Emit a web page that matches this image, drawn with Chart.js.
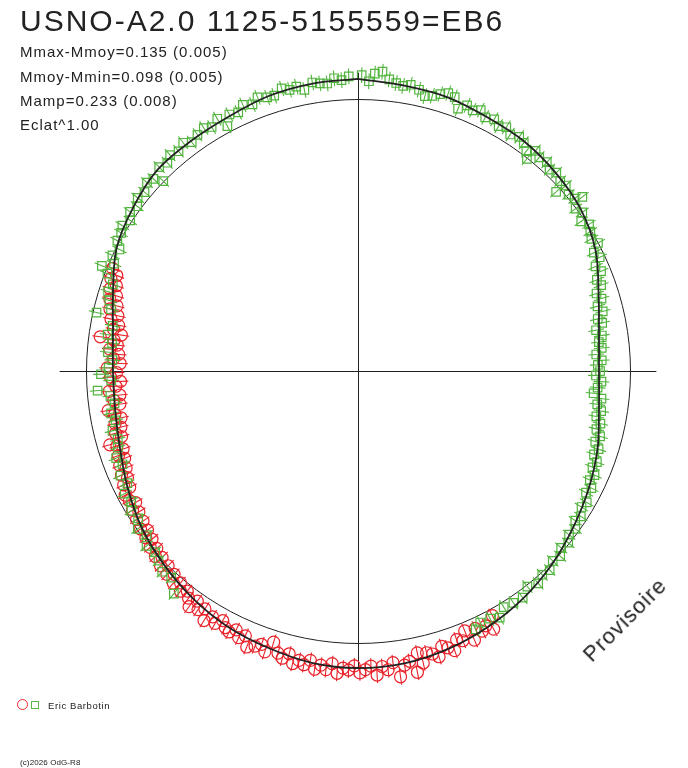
<!DOCTYPE html>
<html>
<head>
<meta charset="utf-8">
<title>USNO-A2.0 1125-5155559=EB6</title>
<script src="https://cdn.jsdelivr.net/npm/chart.js"></script>
<style>
  html, body { margin: 0; padding: 0; background: #fff; }
  #wrap { position: relative; width: 688px; height: 768px; font-family: Arial, "Liberation Sans", sans-serif; color: #222; }
  #wrap canvas { position: absolute; left: 0; top: 0; }
  .txt { position: absolute; white-space: nowrap; line-height: 1; }
  .title { left: 20px; top: 6px; font-size: 30px; letter-spacing: 2px; }
  .info { left: 20px; font-size: 15px; letter-spacing: 1px; }
  .stamp { left: 625px; top: 620px; font-size: 22px; letter-spacing: 1px; transform: translate(-50%, -50%) rotate(-45deg); }
  .observer { left: 48px; top: 701px; font-size: 9.5px; letter-spacing: 0.6px; }
  .copy { left: 20px; top: 759px; font-size: 8px; letter-spacing: 0.1px; }
  .mk { position: absolute; box-sizing: border-box; }
  .mk.red { left: 17px; top: 699px; width: 11px; height: 11px; border: 1px solid #e8262e; border-radius: 50%; }
  .mk.green { left: 31px; top: 701px; width: 8px; height: 8px; border: 1px solid #5bb849; }
</style>
</head>
<body>
<div id="wrap">
  <canvas id="chart" width="688" height="768"></canvas>
  <div class="txt title">USNO-A2.0 1125-5155559=EB6</div>
  <div class="txt info" style="top:44px">Mmax-Mmoy=0.135 (0.005)</div>
  <div class="txt info" style="top:69px">Mmoy-Mmin=0.098 (0.005)</div>
  <div class="txt info" style="top:93px">Mamp=0.233 (0.008)</div>
  <div class="txt info" style="top:117px">Eclat^1.00</div>
  <div class="txt stamp">Provisoire</div>
  <span class="mk red"></span><span class="mk green"></span>
  <div class="txt observer">Eric Barbotin</div>
  <div class="txt copy">(c)2026 OdG-R8</div>
</div>

<script>
// phase (0..1, clockwise from top) and radial offset from the mean circle
const greenPhase = [
  0.002, 0.006, 0.009, 0.013, 0.017, 0.021, 0.025, 0.029, 0.034, 0.038,
  0.042, 0.046, 0.050, 0.054, 0.058, 0.062, 0.066, 0.070, 0.074, 0.079,
  0.083, 0.087, 0.091, 0.096, 0.100, 0.104, 0.107, 0.108, 0.112, 0.117,
  0.121, 0.125, 0.130, 0.133, 0.134, 0.139, 0.143, 0.145, 0.148, 0.152,
  0.156, 0.160, 0.164, 0.168, 0.172,
  0.176, 0.180, 0.184, 0.188, 0.192, 0.196, 0.200, 0.204, 0.208, 0.212,
  0.216, 0.219, 0.223, 0.227, 0.231, 0.235, 0.239, 0.243, 0.246, 0.250,
  0.253, 0.257, 0.261, 0.265, 0.268, 0.272, 0.276, 0.280, 0.284, 0.288,
  0.292, 0.296, 0.300, 0.304, 0.308, 0.312, 0.316, 0.320, 0.324, 0.328,
  0.333, 0.337, 0.342, 0.346, 0.350, 0.355, 0.359, 0.364, 0.368, 0.373,
  0.378, 0.383, 0.388, 0.394, 0.400, 0.406, 0.412, 0.417, 0.422, 0.428,
  0.432,
  0.610, 0.617, 0.623, 0.629, 0.634, 0.640, 0.645, 0.651, 0.656, 0.662,
  0.667, 0.673, 0.678, 0.684, 0.690, 0.695, 0.701, 0.706, 0.712, 0.718,
  0.723, 0.729, 0.734, 0.738, 0.744, 0.748, 0.752,
  0.757, 0.762, 0.768, 0.773, 0.779, 0.785, 0.789, 0.794, 0.799, 0.804,
  0.809, 0.812, 0.816, 0.820, 0.825, 0.829,
  0.834, 0.838, 0.843, 0.847, 0.852, 0.856, 0.861, 0.866, 0.870, 0.873,
  0.877, 0.882, 0.886, 0.891, 0.896, 0.900, 0.905, 0.910, 0.914, 0.919,
  0.922, 0.926, 0.931, 0.935, 0.940, 0.944, 0.949, 0.953, 0.958, 0.962,
  0.966, 0.970, 0.975, 0.979, 0.983, 0.987, 0.991, 0.995
];
const greenDm = [
  0.088, 0.066, 0.095, 0.104, 0.078, 0.068, 0.061, 0.070, 0.058, 0.040,
  0.048, 0.062, 0.074, 0.068, 0.032, 0.056, 0.047, 0.060, 0.043, 0.052,
  0.038, 0.049, 0.034, 0.045, 0.037, 0.018, -0.003, 0.040, 0.030, 0.035,
  0.022, 0.031, 0.020, -0.018, 0.024, 0.010, 0.018, 0.044, -0.002, 0.010,
  -0.012, 0.006, -0.004, -0.014, 0.000,
  -0.030, -0.018, -0.046, -0.034, -0.060, -0.052, -0.078, -0.066, -0.088, -0.074,
  -0.098, -0.085, -0.112, -0.094, -0.108, -0.100, -0.122, -0.103, -0.118, -0.110,
  -0.125, -0.104, -0.117, -0.130, -0.099, -0.112, -0.094, -0.108, -0.088, -0.098,
  -0.078, -0.090, -0.070, -0.080, -0.060, -0.068, -0.050, -0.058, -0.040, -0.050,
  -0.030, -0.038, -0.022, -0.030, -0.012, -0.018, -0.002, -0.010, 0.008, 0.000,
  0.016, 0.010, 0.024, 0.008, 0.030, 0.026, 0.020, 0.046, 0.032, 0.028,
  0.044,
  0.062, 0.024, 0.031, 0.012, 0.000, 0.009, -0.016, -0.004, -0.027, -0.021,
  -0.038, -0.031, -0.057, -0.046, -0.069, -0.055, -0.074, -0.082, -0.071, -0.090,
  -0.079, -0.097, -0.085, -0.040, -0.092, -0.055, -0.083,
  -0.096, -0.078, -0.090, -0.070, -0.083, -0.015, -0.064, -0.050, -0.036, -0.044,
  -0.012, 0.018, -0.020, -0.002, -0.016, 0.006,
  0.008, 0.018, 0.004, 0.022, 0.013, 0.030, 0.024, 0.040, 0.032, 0.000,
  0.047, 0.038, 0.052, 0.043, 0.057, 0.040, 0.050, 0.058, 0.046, 0.062,
  0.020, 0.055, 0.048, 0.066, 0.054, 0.072, 0.060, 0.058, 0.076, 0.064,
  0.070, 0.052, 0.074, 0.067, 0.063, 0.080, 0.071, 0.084
];

const redPhase = [
  0.420, 0.423, 0.426, 0.429, 0.432, 0.435, 0.438, 0.441, 0.444, 0.447,
  0.450, 0.453, 0.456, 0.459, 0.462, 0.465, 0.467, 0.469, 0.472, 0.475,
  0.478, 0.481, 0.484, 0.487, 0.490, 0.493, 0.496, 0.499, 0.502, 0.505,
  0.508, 0.511, 0.514, 0.517, 0.520, 0.523, 0.526, 0.529, 0.532, 0.535,
  0.538, 0.541, 0.544, 0.548, 0.551, 0.554, 0.557, 0.561, 0.564, 0.567,
  0.570, 0.573, 0.576, 0.579, 0.582, 0.585, 0.588, 0.591, 0.594, 0.597,
  0.599, 0.602, 0.605, 0.608, 0.611, 0.614, 0.617, 0.620, 0.623, 0.626,
  0.629, 0.632, 0.635, 0.638, 0.641, 0.644, 0.647, 0.650, 0.653, 0.656,
  0.659, 0.662, 0.665, 0.668, 0.672, 0.675, 0.678, 0.681, 0.684, 0.687,
  0.690, 0.693, 0.696, 0.699, 0.702, 0.704, 0.707, 0.710, 0.713, 0.716,
  0.719, 0.722, 0.725, 0.728, 0.731, 0.734, 0.737, 0.740, 0.743, 0.746,
  0.749, 0.752, 0.755, 0.758, 0.761, 0.764, 0.767, 0.770, 0.771, 0.774,
  0.777, 0.780, 0.783, 0.786, 0.789, 0.792, 0.795, 0.798, 0.801, 0.804,
  0.807, 0.810, 0.813
];
const redDm = [
  0.026, 0.072, 0.048, 0.060, 0.040, 0.078, 0.033, 0.064, 0.052, 0.088,
  0.070, 0.058, 0.092, 0.076, 0.066, 0.100, 0.059, 0.129, 0.084, 0.095,
  0.135, 0.080, 0.104, 0.090, 0.120, 0.086, 0.098, 0.110, 0.084, 0.100,
  0.094, 0.114, 0.080, 0.104, 0.090, 0.108, 0.078, 0.098, 0.086, 0.102,
  0.070, 0.092, 0.078, 0.044, 0.088, 0.066, 0.080, 0.094, 0.058, 0.074,
  0.052, 0.070, 0.062, 0.044, 0.066, 0.050, 0.078, 0.040, 0.056, 0.032,
  0.066, 0.042, 0.024, 0.040, 0.016, 0.034, 0.008, 0.026, 0.000, 0.020,
  -0.006, 0.010, -0.014, 0.002, -0.022, -0.008, -0.030, -0.012, -0.036, -0.020,
  -0.042, -0.026, -0.050, -0.034, -0.030, -0.058, -0.042, -0.066, -0.050, -0.076,
  -0.058, -0.084, -0.066, -0.090, -0.072, -0.048, -0.098, -0.080, -0.104, -0.086,
  -0.112, -0.092, -0.070, -0.116, -0.096, -0.120, -0.082, -0.108, -0.126, -0.090,
  -0.112, -0.078, -0.125, -0.100, -0.118, -0.084, -0.110, -0.096, -0.044, -0.120,
  -0.088, -0.104, -0.072, -0.094, -0.060, -0.082, -0.050, -0.070, -0.040, -0.058,
  -0.030, -0.046, -0.022
];

// fitted light curve
const fitPhase = [
  0.000, 0.025, 0.050, 0.075, 0.100, 0.125, 0.150, 0.175, 0.200, 0.225,
  0.250, 0.275, 0.300, 0.325, 0.350, 0.375, 0.400, 0.425, 0.450, 0.475,
  0.500, 0.525, 0.550, 0.575, 0.600, 0.625, 0.650, 0.675, 0.700, 0.725,
  0.750, 0.775, 0.800, 0.825, 0.850, 0.875, 0.900, 0.925, 0.950, 0.975, 1.000
];
const fitDm = [
  0.074, 0.063, 0.059, 0.047, 0.042, 0.029, 0.012, -0.020, -0.070, -0.103,
  -0.114, -0.103, -0.074, -0.048, -0.022, 0.007, 0.033, 0.055, 0.074, 0.088,
  0.092, 0.086, 0.070, 0.055, 0.033, 0.008, -0.018, -0.050, -0.080, -0.096,
  -0.099, -0.088, -0.053, -0.004, 0.022, 0.044, 0.045, 0.049, 0.063, 0.070, 0.074
];

const errDm = 0.029;     // radial error bar half length
const axisLen = 1.097;   // length of the cross hairs, in circle radii

const GREEN = '#52b43e';
const RED = '#e8222a';
const INK = '#222222';

function polar(ph, dm) {
  const r = 1 + dm;
  const a = 2 * Math.PI * ph;
  return { x: r * Math.sin(a), y: r * Math.cos(a), ph: ph, dm: dm };
}

const polarGrid = {
  id: 'polarGrid',
  beforeDatasetsDraw(chart) {
    const { ctx, scales: { x, y } } = chart;
    const cx = Math.round(x.getPixelForValue(0)) + 0.5;
    const cy = Math.round(y.getPixelForValue(0)) + 0.5;
    const r = x.getPixelForValue(1) - x.getPixelForValue(0);
    ctx.save();
    ctx.strokeStyle = INK;
    ctx.lineWidth = 1;
    ctx.beginPath();
    ctx.moveTo(x.getPixelForValue(-axisLen), cy);
    ctx.lineTo(x.getPixelForValue(axisLen), cy);
    ctx.moveTo(cx, y.getPixelForValue(axisLen));
    ctx.lineTo(cx, y.getPixelForValue(-axisLen));
    ctx.stroke();
    ctx.beginPath();
    ctx.arc(cx, cy, r, 0, 2 * Math.PI);
    ctx.stroke();
    ctx.restore();
  }
};

const radialErrors = {
  id: 'radialErrors',
  afterDatasetDraw(chart, args) {
    const ds = chart.data.datasets[args.index];
    if (!ds.errDm) return;
    const { ctx, scales: { x, y } } = chart;
    ctx.save();
    ctx.strokeStyle = ds.borderColor;
    ctx.lineWidth = 1.1;
    ctx.beginPath();
    ds.data.forEach(p => {
      const a = polar(p.ph, p.dm - ds.errDm);
      const b = polar(p.ph, p.dm + ds.errDm);
      ctx.moveTo(x.getPixelForValue(a.x), y.getPixelForValue(a.y));
      ctx.lineTo(x.getPixelForValue(b.x), y.getPixelForValue(b.y));
    });
    ctx.stroke();
    ctx.restore();
  }
};

const R_PX = 272;
new Chart(document.getElementById('chart'), {
  type: 'scatter',
  data: {
    datasets: [
      {
        label: 'fit',
        data: fitPhase.map((p, i) => polar(p, fitDm[i])),
        showLine: true,
        borderColor: INK,
        borderWidth: 1.8,
        pointRadius: 0,
        tension: 0.35,
        order: 1
      },
      {
        label: 'V',
        data: greenPhase.map((p, i) => polar(p, greenDm[i])),
        pointStyle: 'rect',
        pointRadius: 6,
        borderColor: GREEN,
        backgroundColor: 'rgba(0,0,0,0)',
        borderWidth: 1.2,
        errDm: errDm,
        order: 2
      },
      {
        label: 'R',
        data: redPhase.map((p, i) => polar(p, redDm[i])),
        pointStyle: 'circle',
        pointRadius: 6,
        borderColor: RED,
        backgroundColor: 'rgba(0,0,0,0)',
        borderWidth: 1.2,
        errDm: errDm,
        order: 3
      }
    ]
  },
  options: {
    responsive: false,
    animation: false,
    devicePixelRatio: 1,
    layout: { padding: 0, autoPadding: false },
    scales: {
      x: { type: 'linear', min: -358 / R_PX, max: 330 / R_PX, display: false },
      y: { type: 'linear', min: -397 / R_PX, max: 371 / R_PX, display: false }
    },
    plugins: {
      legend: { display: false },
      title: { display: false },
      tooltip: { enabled: false }
    }
  },
  plugins: [polarGrid, radialErrors]
});
</script>
</body>
</html>
